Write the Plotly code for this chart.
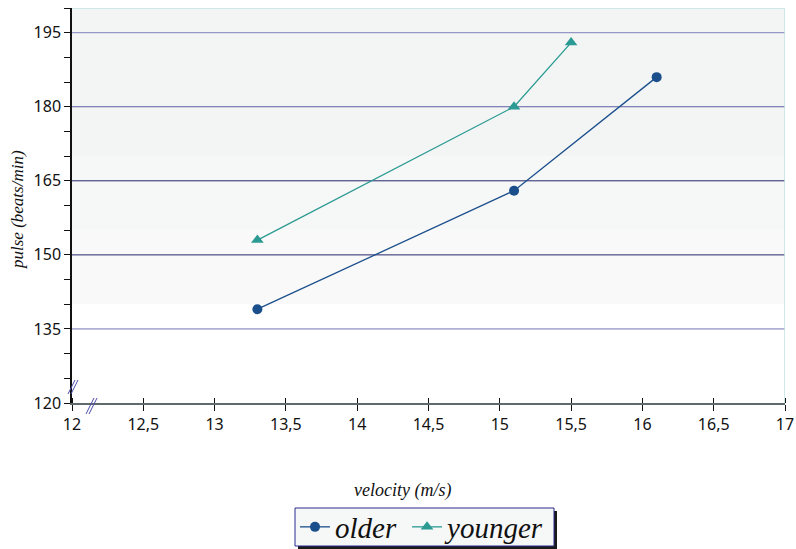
import plotly.graph_objects as go

velocity_older = [13.3, 15.1, 16.1]
pulse_older = [139, 163, 186]
velocity_younger = [13.3, 15.1, 15.5]
pulse_younger = [153, 180, 193]

x_ticks = [12, 12.5, 13, 13.5, 14, 14.5, 15, 15.5, 16, 16.5, 17]
y_ticks = [120, 135, 150, 165, 180, 195]

# plot area geometry in pixels (for decorations in paper coords)
L, R, T, B = 72, 785, 8, 403
W, H = R - L, B - T


def px(x):
    return (x - L) / W


def py(y):
    return (B - y) / H


fig = go.Figure()

fig.add_trace(go.Scatter(
    x=velocity_older, y=pulse_older, name="older\u2009", mode="lines+markers",
    line=dict(color="#1b4f8c", width=1.3),
    marker=dict(symbol="circle", size=10, color="#1b4f8c"),
))
fig.add_trace(go.Scatter(
    x=velocity_younger, y=pulse_younger, name="younger", mode="lines+markers",
    line=dict(color="#2a9a92", width=1.3),
    marker=dict(symbol="triangle-up", size=11, color="#2a9a92"),
))

shapes = []
# background bands (subtle gradient)
for y0, y1, c in [(170, 200, "#f3f5f5"), (155, 170, "#f6f7f7"), (140, 155, "#f9f9f9")]:
    shapes.append(dict(type="rect", xref="x", yref="y", x0=12, x1=17, y0=y0, y1=y1,
                       fillcolor=c, line_width=0, layer="below"))
# top/right border
shapes.append(dict(type="line", xref="x", yref="y", x0=12, x1=17, y0=200, y1=200,
                   line=dict(color="#bfe3e3", width=1.5)))
shapes.append(dict(type="line", xref="x", yref="y", x0=17, x1=17, y0=120, y1=200,
                   line=dict(color="#bfe3e3", width=1.5)))
grid_colors = {195: "#8282bb", 180: "#5c5ca0", 165: "#26266a", 150: "#26266a", 135: "#7474b8"}
for v, c in grid_colors.items():
    shapes.append(dict(type="line", xref="x", yref="y", x0=12, x1=17, y0=v, y1=v,
                       line=dict(color=c, width=1), layer="below"))
# axis break marks
for d in (0, 3):
    shapes.append(dict(type="line", xref="paper", yref="paper",
                       x0=px(68 + d), x1=px(75 + d), y0=py(394), y1=py(380),
                       line=dict(color="#4a4aa8", width=1)))
    shapes.append(dict(type="line", xref="paper", yref="paper",
                       x0=px(86 + d), x1=px(94 + d), y0=py(414), y1=py(398),
                       line=dict(color="#4a4aa8", width=1)))
# legend box with shadow
shapes.append(dict(type="rect", xref="paper", yref="paper",
                   x0=px(298), x1=px(557), y0=py(550), y1=py(511),
                   fillcolor="#1a1a1a", line_width=0))
shapes.append(dict(type="rect", xref="paper", yref="paper",
                   x0=px(295), x1=px(554), y0=py(546), y1=py(508),
                   fillcolor="#f6f7f7", line=dict(color="#2b2b8f", width=1)))

annotations = [
    dict(text="velocity (m/s)", xref="paper", yref="paper", x=px(402), y=py(490),
         showarrow=False, xanchor="center", yanchor="middle",
         font=dict(family="Liberation Serif", size=18, style="italic", color="#111111")),
    dict(text="pulse (beats/min)", xref="paper", yref="paper", x=px(17), y=py(210),
         showarrow=False, xanchor="center", yanchor="middle", textangle=-90,
         font=dict(family="Liberation Serif", size=17, style="italic", color="#111111")),
]

fig.update_layout(
    width=796, height=549,
    margin=dict(l=L, r=796 - R, t=T, b=549 - B, autoexpand=False),
    paper_bgcolor="white", plot_bgcolor="white",
    separators=",.",
    showlegend=True,
    legend=dict(orientation="h", x=px(295), y=py(527), xanchor="left", yanchor="middle",
                bgcolor="rgba(0,0,0,0)", borderwidth=0,
                font=dict(family="Liberation Serif", size=29, color="#111111", style="italic"),
                tracegroupgap=0, itemwidth=30),
    shapes=shapes,
    annotations=annotations,
    font=dict(family="Noto Sans", size=16, color="#111111"),
)

fig.update_xaxes(
    range=[12, 17], tickvals=x_ticks, showgrid=False, zeroline=False, automargin=False,
    showline=True, linecolor="#5f6b6b", linewidth=2,
    ticks="outside", ticklen=6, tickcolor="#111111",
    minor=dict(ticks="inside", ticklen=5, tickcolor="#111111", tickvals=x_ticks),
    tickfont=dict(family="Noto Sans", size=16),
)
fig.update_yaxes(
    range=[120, 200], tickvals=y_ticks, showgrid=False, zeroline=False, automargin=False,
    showline=True, linecolor="#111111", linewidth=1.5,
    ticks="outside", ticklen=6, tickcolor="#111111",
    minor=dict(ticks="outside", ticklen=6, tickcolor="#111111", dtick=5, tick0=120),
    tickfont=dict(family="Noto Sans", size=16),
)

fig.write_html("out.html", config={"displayModeBar": False},
               post_script="document.body.style.margin='0';document.body.style.overflow='hidden';")
